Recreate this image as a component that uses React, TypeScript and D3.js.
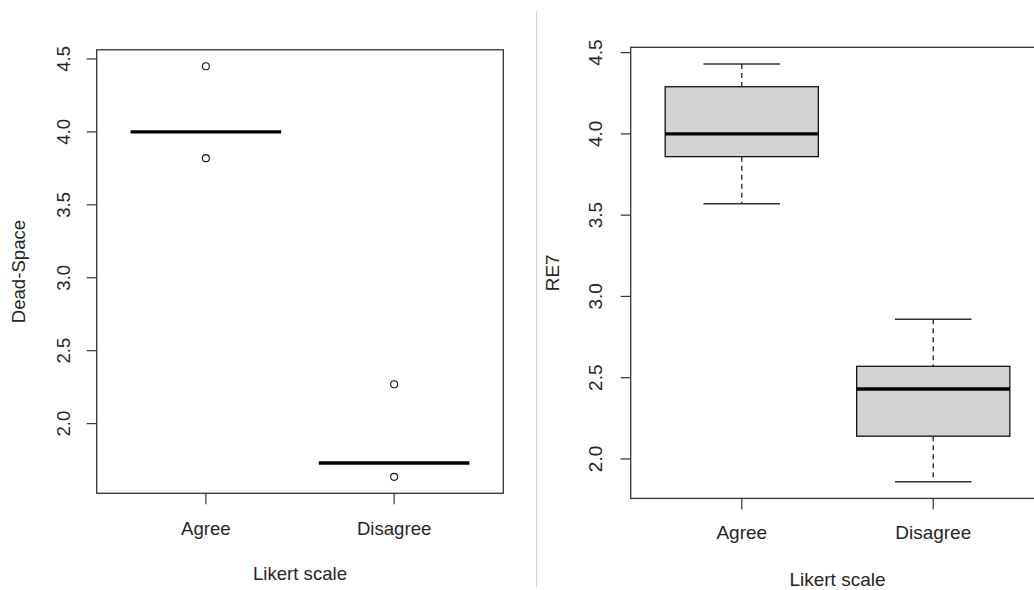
import React from 'react'
import * as d3 from 'd3'

// categories shared by both panels
const categories = ['Agree', 'Disagree']
const yTicks = [2.0, 2.5, 3.0, 3.5, 4.0, 4.5]

// left panel: Dead-Space (degenerate boxes, only medians + outliers)
const deadSpaceMedian = [4.0, 1.73]
const deadSpaceOutliers = [
  [4.45, 3.82],
  [2.27, 1.635]
]

// right panel: RE7 box stats
const re7Low = [3.57, 1.86]
const re7Q1 = [3.86, 2.14]
const re7Median = [4.0, 2.43]
const re7Q3 = [4.29, 2.57]
const re7High = [4.43, 2.86]

const FONT = "'Liberation Sans', Arial, sans-serif"
const TEXT = '#262626'
const AXIS = '#333'

// R-style 4% range expansion
function rDomain(vals) {
  const lo = d3.min(vals)
  const hi = d3.max(vals)
  const pad = (hi - lo) * 0.04
  return [lo - pad, hi + pad]
}

function Frame({ x, y, title, fs, tickLabelX, titleX, xLabelY, titleY }) {
  const [x0, x1] = x.range()
  const [y1, y0] = y.range()
  return (
    <g fontFamily={FONT} fill={TEXT}>
      <rect x={x0} y={y0} width={x1 - x0} height={y1 - y0} fill="none" stroke={AXIS} strokeWidth={1.3} />
      {yTicks.map(t => (
        <g key={t}>
          <line x1={x0 - 10} x2={x0} y1={y(t)} y2={y(t)} stroke={AXIS} strokeWidth={1.2} />
          <text
            transform={`translate(${tickLabelX},${y(t)}) rotate(-90)`}
            textAnchor="middle"
            dy="0.35em"
            fontSize={fs}
          >
            {t.toFixed(1)}
          </text>
        </g>
      ))}
      {categories.map((c, i) => (
        <g key={c}>
          <line x1={x(i + 1)} x2={x(i + 1)} y1={y1} y2={y1 + 11} stroke={AXIS} strokeWidth={1.2} />
          <text x={x(i + 1)} y={xLabelY} dy="0.35em" textAnchor="middle" fontSize={fs}>
            {c}
          </text>
        </g>
      ))}
      <text x={(x0 + x1) / 2} y={titleY} dy="0.35em" textAnchor="middle" fontSize={fs}>
        Likert scale
      </text>
      <text
        transform={`translate(${titleX},${(y0 + y1) / 2}) rotate(-90)`}
        textAnchor="middle"
        dy="0.35em"
        fontSize={fs}
      >
        {title}
      </text>
    </g>
  )
}

export default function App() {
  const w = 1034
  const h = 590
  const boxW = 0.8

  // left
  const xL = d3.scaleLinear().domain([0.42, 2.58]).range([96.7, 503.3])
  const yL = d3
    .scaleLinear()
    .domain(rDomain([...deadSpaceMedian, ...deadSpaceOutliers.flat()]))
    .range([493.3, 49.8])

  // right
  const xR = d3.scaleLinear().domain([0.42, 2.58]).range([630.7, 1044.3])
  const yR = d3
    .scaleLinear()
    .domain(rDomain([...re7Low, ...re7High]))
    .range([498.4, 47.3])

  return (
    <svg width={w} height={h} style={{ position: 'absolute', left: 0, top: 0, background: '#fff' }}>
      <rect width={w} height={h} fill="#fff" />
      <line x1={536.5} x2={536.5} y1={11} y2={587} stroke="#d4d4d4" strokeWidth={1} />

      {/* Dead-Space */}
      {categories.map((c, i) => (
        <g key={c}>
          <line
            x1={xL(i + 1 - boxW / 2)}
            x2={xL(i + 1 + boxW / 2)}
            y1={yL(deadSpaceMedian[i])}
            y2={yL(deadSpaceMedian[i])}
            stroke="#000"
            strokeWidth={3.4}
          />
          {deadSpaceOutliers[i].map((v, j) => (
            <circle key={j} cx={xL(i + 1)} cy={yL(v)} r={3.5} fill="none" stroke="#111" strokeWidth={1.1} />
          ))}
        </g>
      ))}
      <Frame x={xL} y={yL} title="Dead-Space" fs={18.6} tickLabelX={63.5} titleX={18.7} xLabelY={528.3} titleY={573.3} />

      {/* RE7 */}
      {categories.map((c, i) => {
        const cx = xR(i + 1)
        const bl = xR(i + 1 - boxW / 2)
        const br = xR(i + 1 + boxW / 2)
        const sl = xR(i + 1 - boxW / 4)
        const sr = xR(i + 1 + boxW / 4)
        return (
          <g key={c}>
            <line x1={cx} x2={cx} y1={yR(re7High[i])} y2={yR(re7Q3[i])} stroke="#222" strokeWidth={1.3} strokeDasharray="5,4" />
            <line x1={cx} x2={cx} y1={yR(re7Q1[i])} y2={yR(re7Low[i])} stroke="#222" strokeWidth={1.3} strokeDasharray="5,4" />
            <line x1={sl} x2={sr} y1={yR(re7High[i])} y2={yR(re7High[i])} stroke="#333" strokeWidth={1.5} />
            <line x1={sl} x2={sr} y1={yR(re7Low[i])} y2={yR(re7Low[i])} stroke="#333" strokeWidth={1.5} />
            <rect
              x={bl}
              y={yR(re7Q3[i])}
              width={br - bl}
              height={yR(re7Q1[i]) - yR(re7Q3[i])}
              fill="#d3d3d3"
              stroke="#111"
              strokeWidth={1.3}
            />
            <line x1={bl} x2={br} y1={yR(re7Median[i])} y2={yR(re7Median[i])} stroke="#000" strokeWidth={3.4} />
          </g>
        )
      })}
      <Frame x={xR} y={yR} title="RE7" fs={19} tickLabelX={595.7} titleX={552} xLabelY={532.5} titleY={579.5} />
    </svg>
  )
}
